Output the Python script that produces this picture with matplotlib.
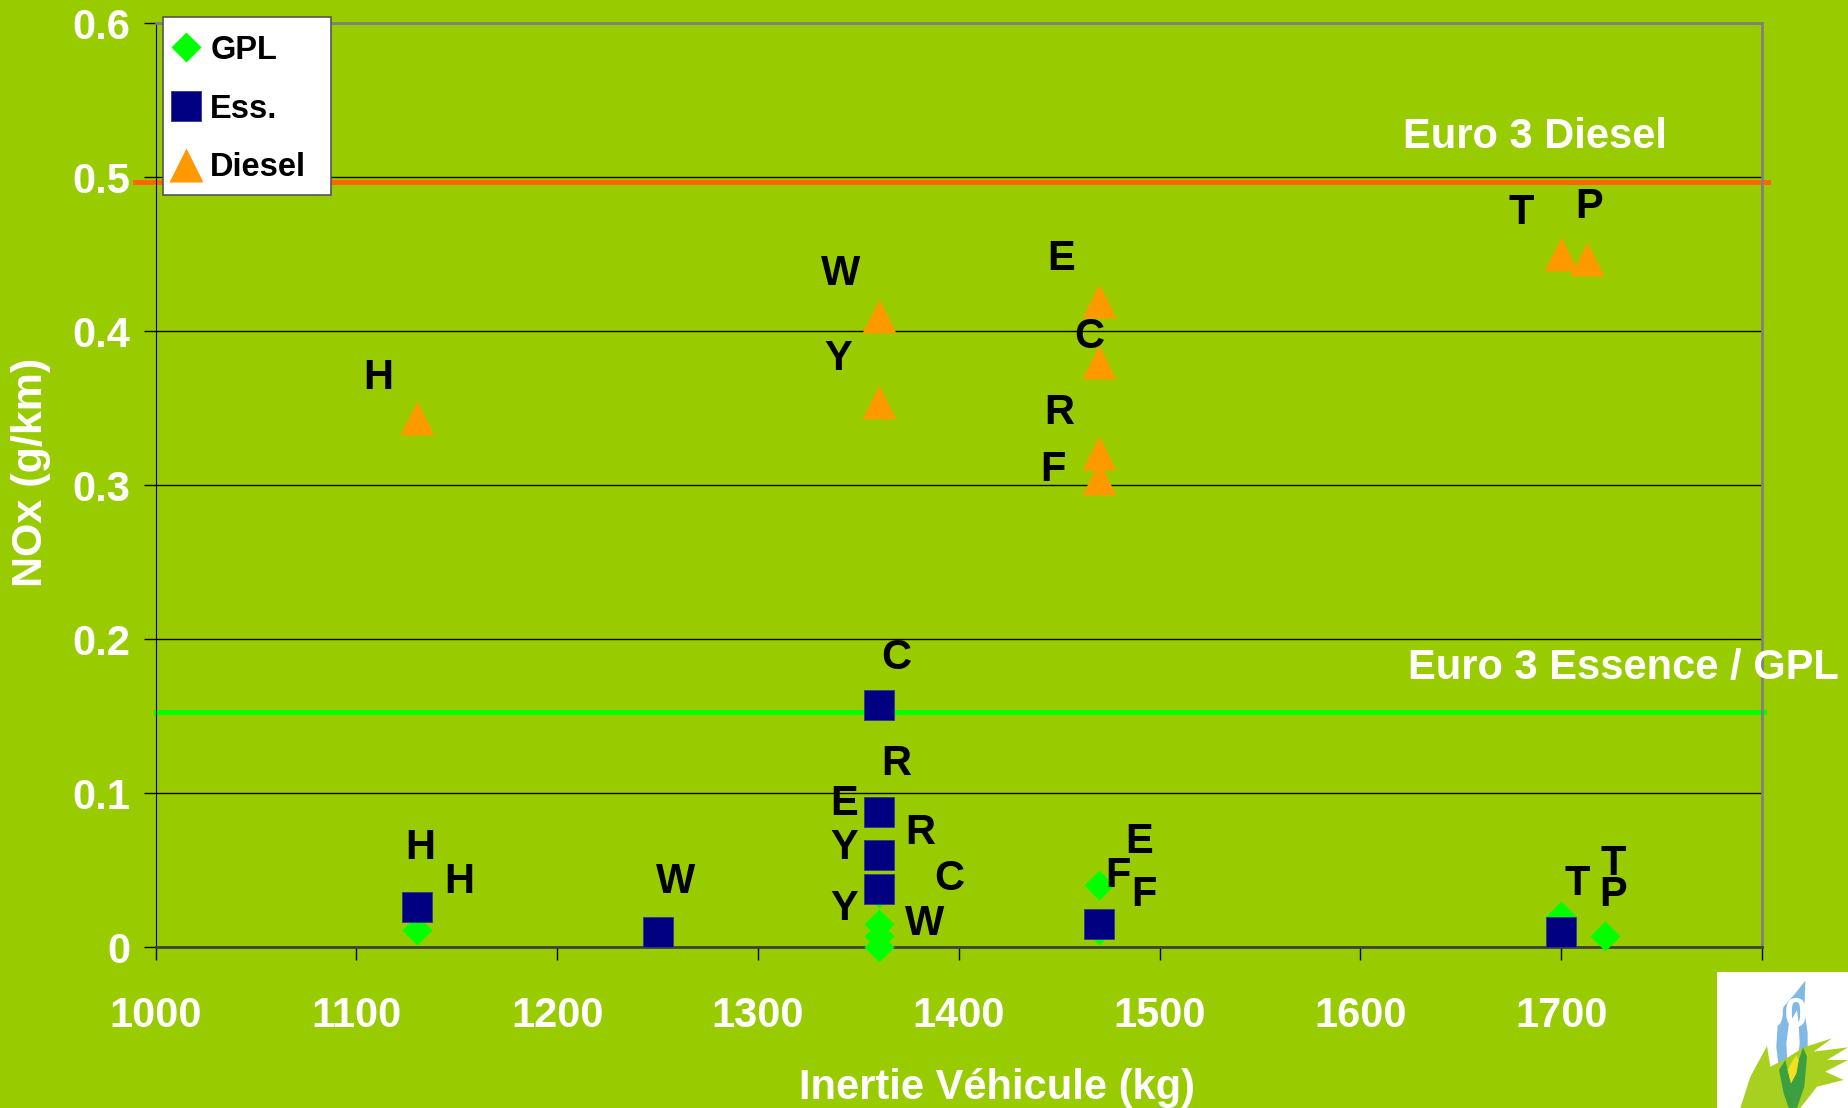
#NOx emissions versus vehicle inertia
import numpy as np
import matplotlib.pyplot as plt
from matplotlib.patches import Rectangle, Polygon

plt.rcParams['font.family'] = ['Liberation Sans', 'DejaVu Sans']
plt.rcParams['font.weight'] = 'bold'

bg = '#99CC00'

# GPL (diamonds)
gpl_x = [1130, 1360, 1360, 1360, 1360, 1470, 1470, 1700, 1722]
gpl_y = [0.011, 0.035, 0.015, 0.007, 0.000, 0.040, 0.011, 0.020, 0.007]

# Essence (squares)
ess_x = [1130, 1250, 1360, 1360, 1360, 1360, 1470, 1700]
ess_y = [0.026, 0.010, 0.157, 0.088, 0.060, 0.038, 0.015, 0.010]

# Diesel (triangles)
diesel_x = [1130, 1360, 1360, 1470, 1470, 1470, 1470, 1700, 1713]
diesel_y = [0.344, 0.410, 0.354, 0.420, 0.380, 0.321, 0.305, 0.450, 0.447]

# point letters
label_text = ['H', 'H', 'W', 'C', 'R', 'E', 'Y', 'R', 'C', 'Y', 'W',
              'E', 'F', 'F', 'T', 'T', 'P',
              'H', 'W', 'Y', 'E', 'C', 'R', 'F', 'T', 'P']
label_x = [1132, 1151, 1259, 1369, 1369, 1343, 1343, 1381, 1395, 1343, 1383,
           1490, 1479, 1492, 1708, 1726, 1726,
           1111, 1341, 1340, 1451, 1465, 1450, 1447, 1680, 1714]
label_y = [0.064, 0.042, 0.042, 0.188, 0.119, 0.093, 0.064, 0.074, 0.044, 0.025, 0.015,
           0.068, 0.046, 0.034, 0.041, 0.054, 0.034,
           0.370, 0.437, 0.382, 0.447, 0.396, 0.347, 0.310, 0.477, 0.481]

euro3_diesel = 0.497
euro3_essence = 0.153

xticks = [1000, 1100, 1200, 1300, 1400, 1500, 1600, 1700, 1800]
yticks = [0, 0.1, 0.2, 0.3, 0.4, 0.5, 0.6]
ytick_labels = ['0', '0.1', '0.2', '0.3', '0.4', '0.5', '0.6']

fig = plt.figure(figsize=(18.48, 11.08), dpi=100, facecolor=bg)
ax = fig.add_axes([0.0842, 0.1453, 0.8693, 0.8335])
ax.set_facecolor(bg)
ax.set_xlim(1000, 1800)
ax.set_ylim(0, 0.6)
ax.set_axisbelow(True)
ax.yaxis.grid(True, color='black', lw=1)

ax.axhline(euro3_diesel, xmin=-0.013, xmax=1.004, color='#FF6600', lw=3.6, clip_on=False, zorder=2)
ax.axhline(euro3_essence, xmin=0, xmax=1.001, color='#00FF00', lw=3.6, clip_on=False, zorder=2)

ax.plot(gpl_x, gpl_y, 'D', color='#00FF00', ms=14.8, mec='none', label='GPL', zorder=3, clip_on=False)
ax.plot(ess_x, ess_y, 's', color='#000080', ms=21, mec='#333399', mew=0.6, label='Ess.', zorder=4, clip_on=False)
ax.plot(diesel_x, diesel_y, '^', color='#FF9900', ms=24, mec='none', label='Diesel', zorder=3)

for t, x, y in zip(label_text, label_x, label_y):
    ax.text(x, y, t, fontsize=30, fontweight='bold', color='black', ha='center', va='center', zorder=5)

ax.text(1687, 0.526, 'Euro 3 Diesel', fontsize=30, fontweight='bold', color='white',
        ha='center', va='center')
ax.text(1731, 0.181, 'Euro 3 Essence / GPL', fontsize=30, fontweight='bold', color='white',
        ha='center', va='center', clip_on=False)

ax.set_xticks(xticks)
ax.set_yticks(yticks)
ax.set_yticklabels(ytick_labels)
ax.tick_params(axis='both', direction='out', length=9, width=1, color='black',
               labelcolor='white', labelsize=30)
ax.tick_params(axis='x', pad=26)
ax.tick_params(axis='y', pad=9)
for lab in ax.get_xticklabels() + ax.get_yticklabels():
    lab.set_fontweight('bold')

ax.spines['left'].set_color('black')
ax.spines['bottom'].set_color('#404040')
ax.spines['bottom'].set_linewidth(2)
ax.spines['top'].set_color('#808080')
ax.spines['top'].set_linewidth(2)
ax.spines['right'].set_color('#808080')
ax.spines['right'].set_linewidth(2)

ax.set_xlabel('Inertie Véhicule (kg)', fontsize=30, fontweight='bold', color='white')
ax.xaxis.set_label_coords(0.524, -0.131)
ax.set_ylabel('NOx (g/km)', fontsize=31, fontweight='bold', color='white')
ax.yaxis.set_label_coords(-0.065, 0.514)

# legend box drawn by hand so it has the same size as the original
ax.add_patch(Rectangle((163 / 1848, 1 - 195 / 1108), 168 / 1848, 178 / 1108,
                       transform=fig.transFigure, facecolor='white', edgecolor='#555555',
                       lw=1.2, zorder=9, clip_on=False))
leg = ax.legend(loc='upper left', bbox_to_anchor=(163 / 1848, 1 - 25 / 1108),
                bbox_transform=fig.transFigure, frameon=False,
                borderpad=0.3, handlelength=0.8, handletextpad=0.35,
                labelspacing=0.85, borderaxespad=0, prop={'weight': 'bold', 'size': 23.5})
leg.set_zorder(10)


# logo in the corner (drawn under the axes, like the original slide)
def px(zx, zy):
    return ((1717 + zx / 3) / 1848, 1 - (960 + zy / 3) / 1108)


def logo_shape(points, color):
    fig.patches.append(Polygon([px(a, b) for a, b in points], closed=True,
                               transform=fig.transFigure, facecolor=color,
                               edgecolor='none', zorder=-5))


fig.patches.append(Rectangle((1717 / 1848, 0), 131 / 1848, 136 / 1108, transform=fig.transFigure,
                             facecolor='white', edgecolor='none', zorder=-6))
logo_shape([(265, 62), (235, 100), (200, 140), (182, 195), (178, 260), (186, 330), (200, 400),
            (215, 444), (240, 444), (262, 380), (272, 300), (272, 220), (262, 150)], '#80B8E6')
logo_shape([(240, 150), (215, 195), (208, 250), (212, 320), (222, 360), (240, 320),
            (248, 250), (245, 190)], 'white')
logo_shape([(70, 444), (100, 350), (150, 258), (160, 320), (200, 300), (260, 262),
            (345, 235), (290, 275), (393, 262), (330, 300), (393, 300), (325, 335),
            (380, 360), (300, 380), (250, 444)], '#A8D020')
logo_shape([(186, 330), (200, 400), (215, 444), (240, 444), (262, 380), (270, 290),
            (258, 262), (245, 300), (238, 340), (222, 370), (212, 330), (205, 300)], '#3DA040')
logo_shape([(212, 330), (222, 370), (238, 340), (245, 300), (238, 285), (225, 305)], '#F0E020')

fig.savefig('out.png', dpi=100, facecolor=bg)
